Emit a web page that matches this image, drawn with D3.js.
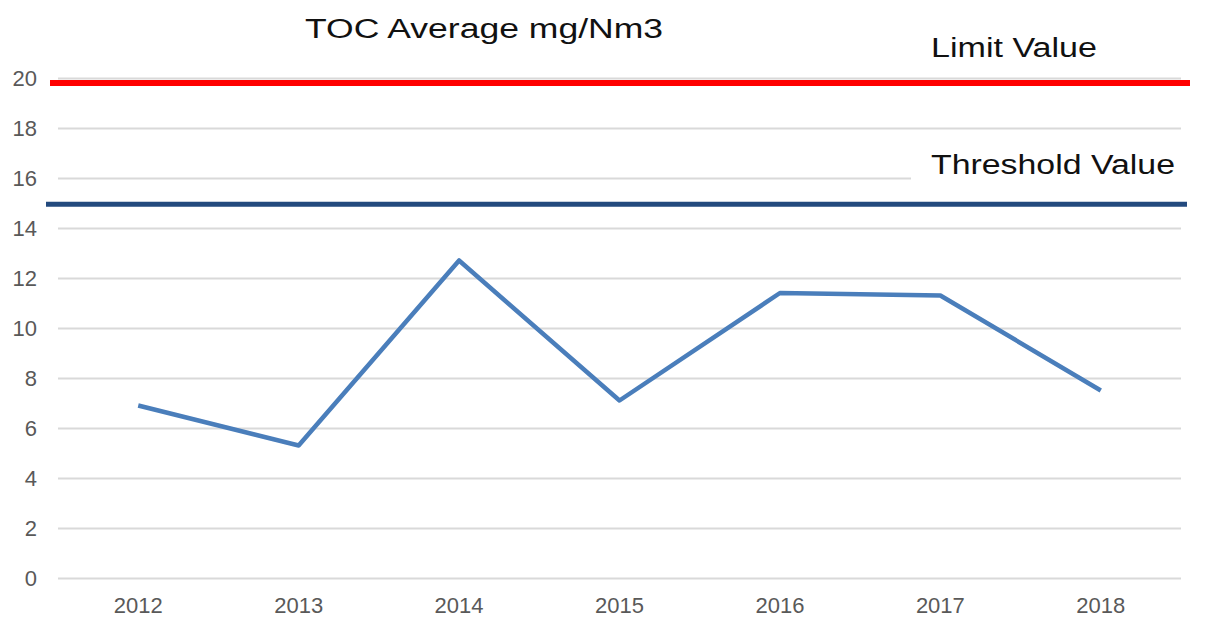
<!DOCTYPE html>
<html>
<head>
<meta charset="utf-8">
<script src="https://cdn.jsdelivr.net/npm/d3@7"></script>
<style>
  body { margin: 0; background: #fff; }
  .chart text { font-family: "Liberation Sans", Arial, sans-serif; }
</style>
</head>
<body>
<svg class="chart"></svg>
<script>
years = ["2012", "2013", "2014", "2015", "2016", "2017", "2018"];
toc_avg = [6.9, 5.3, 12.7, 7.1, 11.4, 11.3, 7.5];
y_ticks = [0, 2, 4, 6, 8, 10, 12, 14, 16, 18, 20];
limit_value = 19.8;
threshold_value = 14.95;

var width = 1216, height = 618;
var margin = {top: 78, right: 35, bottom: 40, left: 58},
    graph_width = width - margin.left - margin.right,
    graph_height = height - margin.top - margin.bottom;

var chart = d3.select(".chart")
    .attr("width", width)
    .attr("height", height)
  .append("g")
    .attr("transform", "translate(" + margin.left + "," + margin.top + ")");

var x = d3.scaleBand()
    .domain(years)
    .range([0, graph_width]);

var y = d3.scaleLinear()
    .domain([0, 20])
    .range([graph_height, 0]);

// grid lines
chart.append("g")
    .attr("class", "grid")
    .call(d3.axisLeft(y).tickValues(y_ticks).tickSize(-graph_width).tickFormat(""))
    .call(function(g) { g.select(".domain").remove(); })
    .selectAll("line")
    .attr("stroke", "#d9d9d9")
    .attr("stroke-width", 2);

// y axis labels
chart.append("g")
    .call(d3.axisLeft(y).tickValues(y_ticks).tickSize(0).tickPadding(21))
    .call(function(g) { g.select(".domain").remove(); })
    .selectAll("text")
    .attr("font-size", 22)
    .attr("fill", "#595959");

// x axis labels
chart.append("g")
    .attr("transform", "translate(0," + graph_height + ")")
    .call(d3.axisBottom(x).tickSize(0).tickPadding(19))
    .call(function(g) { g.select(".domain").remove(); })
    .selectAll("text")
    .attr("font-size", 22)
    .attr("fill", "#595959");

// white box behind threshold label
chart.append("rect")
    .attr("x", 853)
    .attr("y", y(threshold_value) - 64)
    .attr("width", 300)
    .attr("height", 56)
    .attr("fill", "#fff");

// limit + threshold lines
chart.append("line")
    .attr("x1", -8).attr("x2", graph_width + 9)
    .attr("y1", y(limit_value)).attr("y2", y(limit_value))
    .attr("stroke", "#ff0000")
    .attr("stroke-width", 6);

chart.append("line")
    .attr("x1", -12).attr("x2", graph_width + 6)
    .attr("y1", y(threshold_value)).attr("y2", y(threshold_value))
    .attr("stroke", "#234a7e")
    .attr("stroke-width", 5);

// data line
var line = d3.line()
    .x(function(d, i) { return x(years[i]) + x.bandwidth() / 2; })
    .y(function(d) { return y(d); });

chart.append("path")
    .datum(toc_avg)
    .attr("d", line)
    .attr("fill", "none")
    .attr("stroke", "#4a7ebb")
    .attr("stroke-width", 4.5)
    .attr("stroke-linejoin", "round");

// labels
var svg = d3.select(".chart");
svg.append("text")
    .attr("x", 305).attr("y", 38)
    .attr("font-family", "DejaVu Sans")
    .attr("font-size", 27)
    .attr("textLength", 358)
    .attr("lengthAdjust", "spacingAndGlyphs")
    .attr("fill", "#111")
    .text("TOC Average mg/Nm3");

svg.append("text")
    .attr("x", 931).attr("y", 57)
    .attr("font-family", "DejaVu Sans")
    .attr("font-size", 27)
    .attr("textLength", 166)
    .attr("lengthAdjust", "spacingAndGlyphs")
    .attr("fill", "#111")
    .text("Limit Value");

svg.append("text")
    .attr("x", 931).attr("y", 174)
    .attr("font-family", "DejaVu Sans")
    .attr("font-size", 27)
    .attr("textLength", 244)
    .attr("lengthAdjust", "spacingAndGlyphs")
    .attr("fill", "#111")
    .text("Threshold Value");
</script>
</body>
</html>
